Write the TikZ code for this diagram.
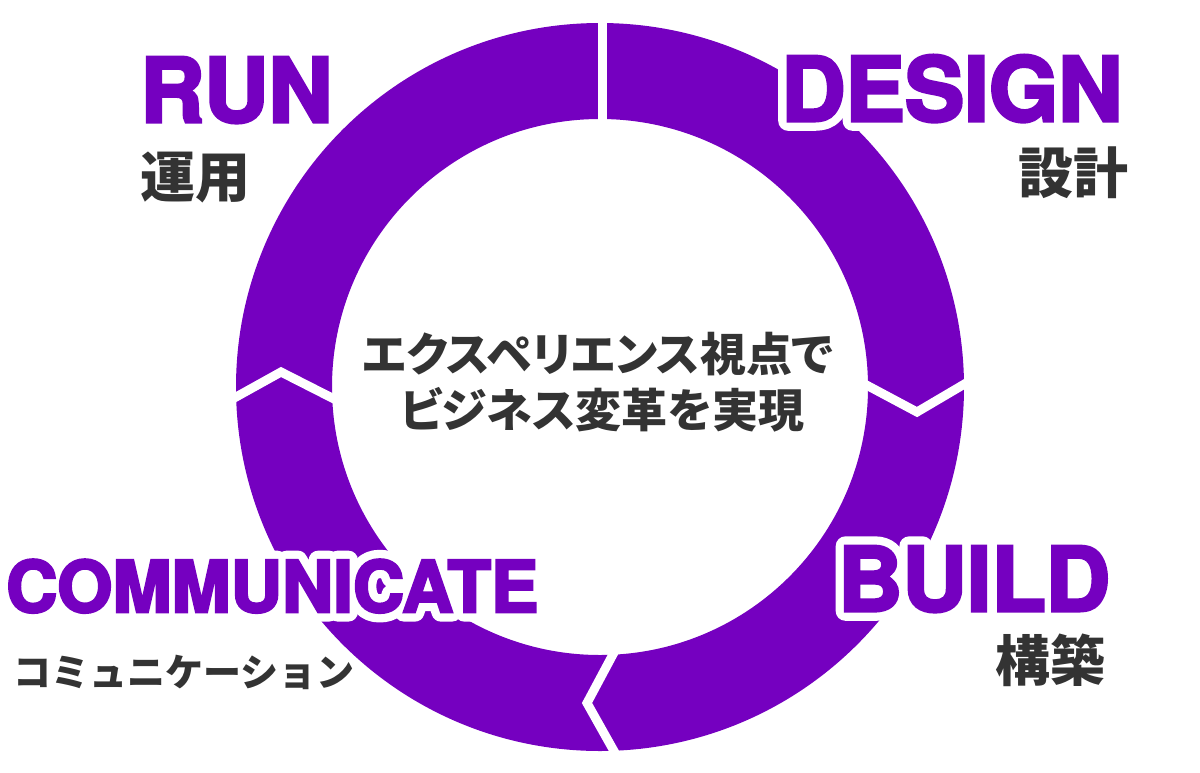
\documentclass[tikz,border=0pt]{standalone}
\usepackage{fontspec}
\usetikzlibrary{calc}
\newfontfamily\hdfont{TeX Gyre Heros}[BoldFeatures={FakeBold=3.5}]
\newfontfamily\hdout{TeX Gyre Heros}[BoldFeatures={FakeBold=22}]
\newfontfamily\hdouts{TeX Gyre Heros}[BoldFeatures={FakeBold=27}]
\newfontfamily\jpfont{Noto Sans CJK JP}[RawFeature=+palt]
\newfontfamily\jpfontn{Noto Sans CJK JP}
\definecolor{purp}{HTML}{7500C0}
\definecolor{txt}{HTML}{333333}
\tikzset{
  headbig/.style={font=\hdfont\bfseries\fontsize{89}{89}\selectfont, text=purp, inner sep=0pt, anchor=base west},
  headsmall/.style={font=\hdfont\bfseries\fontsize{71}{71}\selectfont, text=purp, inner sep=0pt, anchor=base west},
  outbig/.style={font=\hdout\bfseries\fontsize{89}{89}\selectfont, text=white, inner sep=0pt, anchor=base west},
  outsmall/.style={font=\hdouts\bfseries\fontsize{71}{71}\selectfont, text=white, inner sep=0pt, anchor=base west},
  jplabel/.style={font=\jpfontn\bfseries\fontsize{55}{55}\selectfont, text=txt, inner sep=0pt, anchor=base west},
  jpsmall/.style={font=\jpfontn\bfseries\fontsize{38}{38}\selectfont, text=txt, inner sep=0pt, anchor=base west},
  jpcenter/.style={font=\jpfont\bfseries\fontsize{46}{46}\selectfont, text=txt, inner sep=0pt, anchor=base},
  gap/.style={draw=white, line width=9pt},
  counter/.style={fill=white},
}
\begin{document}
\begin{tikzpicture}[x=1pt, y=-1pt]
\useasboundingbox (0,0) rectangle (1200,772);
\coordinate (c) at (600,387);
% ring
\fill[purp, even odd rule] (c) circle (364) (c) circle (268);
% gaps
\coordinate (t1) at (602,15);
\coordinate (t2) at (602,128);
\draw[gap] (t1) -- (t2);
\coordinate (r1) at (857,380);
\coordinate (r2) at (917,412);
\coordinate (r3) at (973,379);
\draw[gap] (r1) -- (r2) -- (r3);
\coordinate (b1) at (618,645);
\coordinate (b2) at (587,703);
\coordinate (b3) at (619,760);
\draw[gap] (b1) -- (b2) -- (b3);
\coordinate (l1) at (227,402);
\coordinate (l2) at (281,372);
\coordinate (l3) at (342,403);
\draw[gap] (l1) -- (l2) -- (l3);
% white outlines behind headings
\coordinate (dpos) at (781,121);
\coordinate (bpos) at (838,611);
\coordinate (cpos) at (6,612);
\begin{scope}[line join=round]
\node[outbig] (designout) at (dpos) {DESIGN};
\node[outbig] (buildout) at (bpos) {BUILD};
\node[outsmall] (commout) at (cpos) {COMMUNICATE};
\end{scope}
% counters knocked out
\fill[counter] ($(dpos)+(21,-15)$) rectangle ($(dpos)+(46,-49)$);
\fill[counter] ($(bpos)+(20,-13)$) rectangle ($(bpos)+(43,-27)$);
\fill[counter] ($(bpos)+(20,-37)$) rectangle ($(bpos)+(41,-51)$);
% headings
\node[headbig] (run) at (140,122) {RUN};
\node[headbig] (design) at (dpos) {DESIGN};
\node[headbig] (build) at (bpos) {BUILD};
\node[headsmall] (comm) at (cpos) {COMMUNICATE};
% japanese labels
\node[jplabel] (unyo) at (140,197) {運用};
\node[jplabel] (sekkei) at (1018,193) {設計};
\node[jplabel] (kochiku) at (995,681) {構築};
\node[jpsmall] (commjp) at (13,686) {コミュニケーション};
% center text
\node[jpcenter] (ct1) at (598,371) {エクスペリエンス視点で};
\node[jpcenter] (ct2) at (602,427) {ビジネス変革を実現};
\end{tikzpicture}
\end{document}
